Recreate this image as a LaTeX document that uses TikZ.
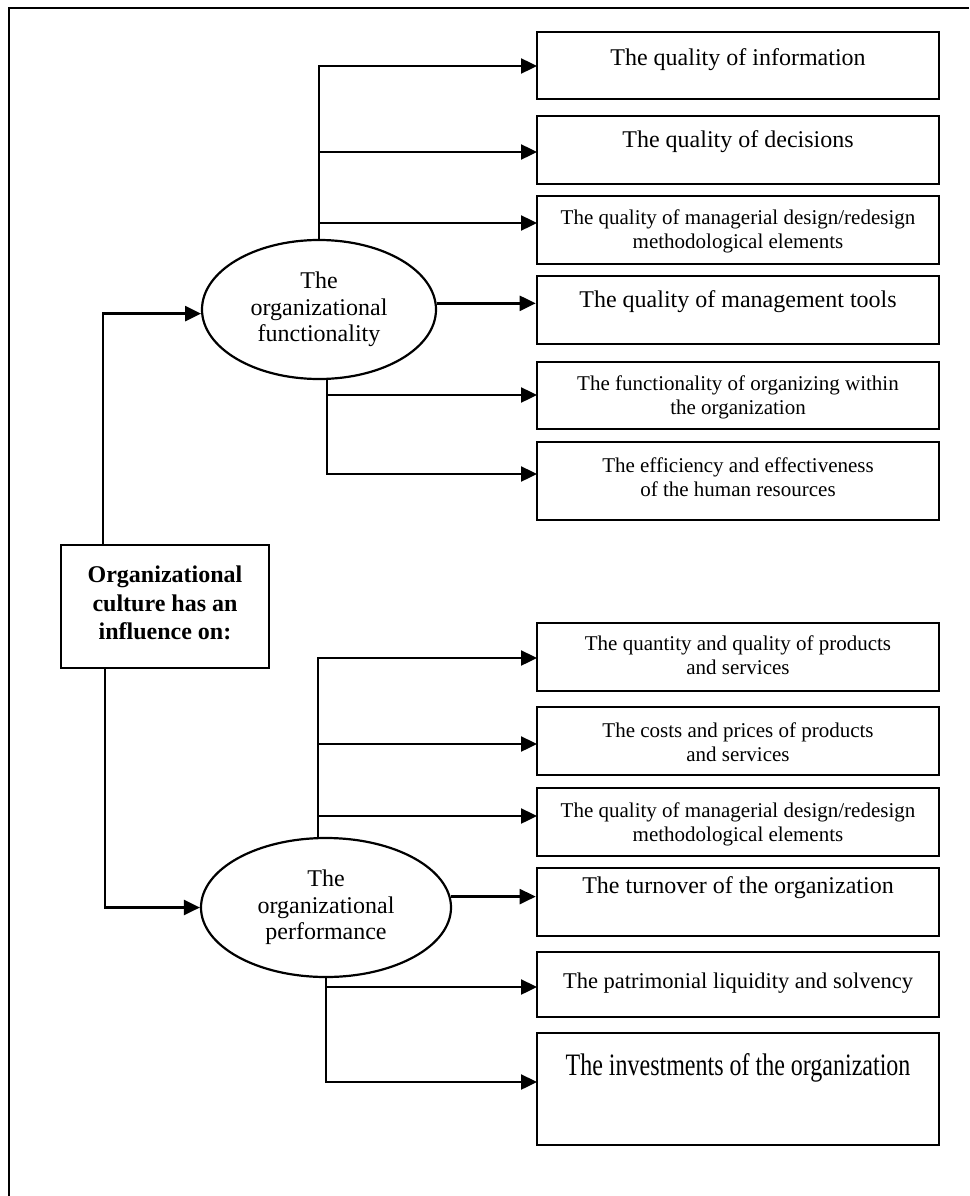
\documentclass[tikz,border=0pt]{standalone}
\usepackage{fontspec}
\setmainfont{Liberation Serif}
\usetikzlibrary{arrows.meta,shapes.geometric}
\begin{document}
\begin{tikzpicture}[x=1pt,y=-1pt,
  ln/.style={line width=2.4pt},
  arr/.style={line width=2.4pt,-{Triangle[length=16pt,width=15pt]}},
  box/.style={draw,line width=2.6pt,minimum width=402pt,inner sep=0pt},
  big/.style={font=\fontsize{24}{27}\selectfont,align=center,inner sep=0pt},
  sml/.style={font=\fontsize{21}{24}\selectfont,align=center,inner sep=0pt},
  oval/.style={draw,ellipse,line width=2.2pt,inner sep=0pt,font=\fontsize{24}{26.5}\selectfont,align=center}]
\useasboundingbox (0,0) rectangle (969,1196);
\draw[line width=2.2pt] (969,8) -- (9,8) -- (9,1196);

% upper boxes
\node[box,minimum height=67pt] (b1) at (738,65.5) {};
\node[big] (t1) at (738,60) {The quality of information};
\node[box,minimum height=68pt] (b2) at (738,150) {};
\node[big] (t2) at (738,142) {The quality of decisions};
\node[box,minimum height=68pt] (b3) at (738,230) {};
\node[sml] (t3) at (738,231) {The quality of managerial design/redesign\\methodological elements};
\node[box,minimum height=68pt] (b4) at (738,310) {};
\node[big] (t4) at (738,302) {The quality of management tools};
\node[box,minimum height=67pt] (b5) at (738,395.5) {};
\node[sml] (t5) at (738,397) {The functionality of organizing within\\the organization};
\node[box,minimum height=78pt] (b6) at (738,481) {};
\node[sml] (t6) at (738,477) {The efficiency and effectiveness\\of the human resources};

% lower boxes
\node[box,minimum height=68pt] (b7) at (738,657) {};
\node[sml] (t7) at (738,655) {The quantity and quality of products\\and services};
\node[box,minimum height=68pt] (b8) at (738,741) {};
\node[sml] (t8) at (738,742) {The costs and prices of products\\and services};
\node[box,minimum height=68pt] (b9) at (738,822) {};
\node[sml] (t9) at (738,824) {The quality of managerial design/redesign\\methodological elements};
\node[box,minimum height=68pt] (b10) at (738,902) {};
\node[big] (t10) at (738,888) {The turnover of the organization};
\node[box,minimum height=65pt] (b11) at (738,984.5) {};
\node[font=\fontsize{22.5}{26}\selectfont,inner sep=0pt] (t11) at (738,983) {The patrimonial liquidity and solvency};
\node[box,minimum height=112pt] (b12) at (738,1089) {};
\node[big] (t12) at (738,1068) {\scalebox{1}[1.3]{The investments of the organization}};

% central box
\node[draw,line width=2.6pt,minimum width=208pt,minimum height=123pt,inner sep=0pt] (c) at (165,606.5) {};
\node[font=\fontsize{24}{28.5}\selectfont\bfseries,align=center,inner sep=0pt] (ct) at (165,603) {Organizational\\culture has an\\influence on:};

% ellipses
\node[oval,minimum width=234pt,minimum height=139pt] (e1) at (319,309.5) {The\\organizational\\functionality};
\node[oval,minimum width=250pt,minimum height=139pt] (e2) at (326,907.5) {The\\organizational\\performance};

% arrow targets
\coordinate (a1) at (537,66);
\coordinate (a2) at (537,152);
\coordinate (a3) at (537,223);
\coordinate (a5) at (537,395);
\coordinate (a6) at (537,474);
\coordinate (a7) at (537,658);
\coordinate (a8) at (537,744);
\coordinate (a9) at (537,816);
\coordinate (a11) at (537,987);
\coordinate (a12) at (537,1082);
\coordinate (d1) at (327,378.6);
\coordinate (u2) at (318,838.6);

% upper connectors
\draw[arr] (e1.north) |- (a1);
\draw[arr] (e1.north |- a2) -- (a2);
\draw[arr] (e1.north |- a3) -- (a3);
\draw[arr] (e1.3) -- (e1.3 -| b4.west);
\draw[arr] (d1) |- (a6);
\draw[arr] (d1 |- a5) -- (a5);

% lower connectors
\draw[arr] (u2) |- (a7);
\draw[arr] (u2 |- a8) -- (a8);
\draw[arr] (u2 |- a9) -- (a9);
\draw[arr] (e2.5) -- (e2.5 -| b10.west);
\draw[arr] (e2.south) |- (a12);
\draw[arr] (e2.south |- a11) -- (a11);

% from central box
\draw[arr] (c.north -| 103,0) |- (e1.182);
\draw[arr] (c.south -| 105,0) |- (e2.west);
\end{tikzpicture}
\end{document}
